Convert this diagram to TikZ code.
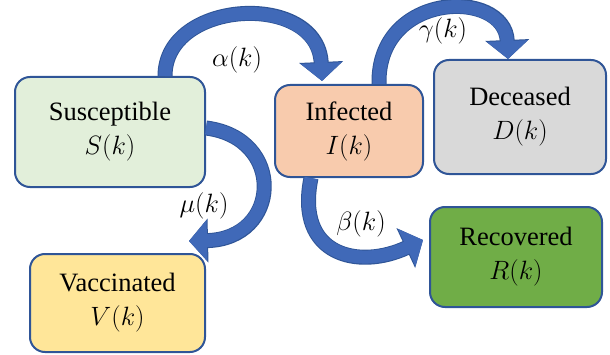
\RequirePackage{fix-cm}
\documentclass[tikz,border=0pt]{standalone}
\usepackage{fontspec}
\setmainfont{Liberation Serif}
\usetikzlibrary{arrows.meta, calc, positioning}
\definecolor{edgeblue}{HTML}{2F5597}
\definecolor{flowblue}{HTML}{4069B8}
\definecolor{susfill}{HTML}{E2EFDA}
\definecolor{inffill}{HTML}{F8CBAD}
\definecolor{decfill}{HTML}{D9D9D9}
\definecolor{recfill}{HTML}{70AD47}
\definecolor{vacfill}{HTML}{FFE699}

\begin{document}
\begin{tikzpicture}[x=1pt, y=1pt,
    box/.style={draw=edgeblue, line width=2pt, rounded corners=15pt, align=center,
        inner sep=0pt, font=\fontsize{26.5}{34}\selectfont},
    flow/.style={draw=flowblue, line width=13pt, -{Triangle[length=18pt, width=40pt]},
        preaction={draw=edgeblue, line width=15pt, -{Triangle[length=19pt, width=43pt]}}},
    rate/.style={inner sep=0pt, font=\fontsize{26.5}{32}\selectfont}]
    \useasboundingbox (0, 0) rectangle (610, 354);

    % compartments
    \node[box, fill=susfill, minimum width=190, minimum height=110] (sus) at (110, 222) {Susceptible\\$S(k)$};
    \node[box, fill=inffill, minimum width=148, minimum height=92] (inf) at (349, 223) {Infected\\$I(k)$};
    \node[box, fill=decfill, minimum width=172, minimum height=114] (dec) at (520, 237) {Deceased\\$D(k)$};
    \node[box, fill=recfill, minimum width=172, minimum height=100] (rec) at (516, 97) {Recovered\\$R(k)$};
    \node[box, fill=vacfill, minimum width=175, minimum height=98] (vac) at (117.5, 51) {Vaccinated\\$V(k)$};

    % transitions
    \draw[flow] ($(sus.north)+(55,0)$) .. controls +(0,77) and +(-4,90) .. ($(inf.north)+(-27,3)$);
    \draw[flow] ($(inf.north)+(30,0)$) .. controls +(-2,93) and +(-3,71) .. ($(dec.north)+(-12,0)$);
    \draw[flow] ($(sus.east)+(0,4)$) .. controls +(80,-10) and +(92,2) .. ($(vac.north east)+(-17,12)$);
    \draw[flow] ($(inf.south)+(-38,0)$) .. controls +(-16,-78) and +(-64,-30) .. ($(rec.west)+(-6,17)$);

    % rates
    \node[rate] (ra) at (237, 294) {$\alpha(k)$};
    \node[rate] (rg) at (443, 323) {$\gamma(k)$};
    \node[rate] (rm) at (204, 148) {$\mu(k)$};
    \node[rate] (rb) at (361, 130) {$\beta(k)$};
\end{tikzpicture}
\end{document}
